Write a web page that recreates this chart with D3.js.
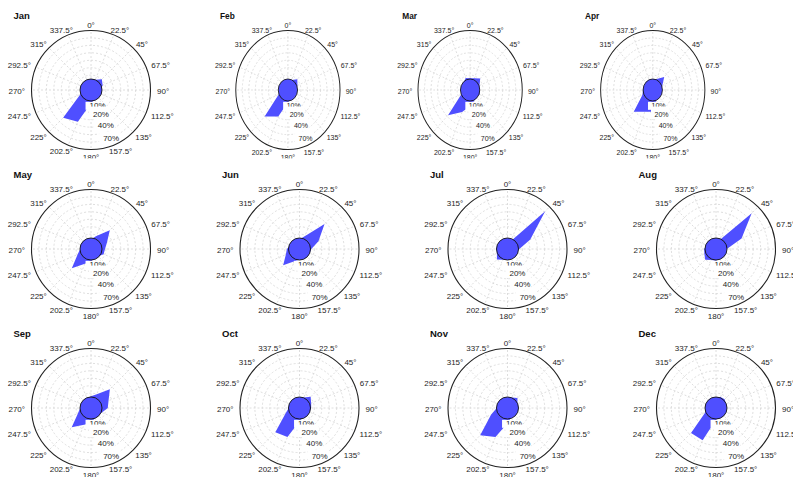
<!DOCTYPE html>
<html><head><meta charset="utf-8">
<script src="https://cdn.jsdelivr.net/npm/d3@7"></script>
<style>body{margin:0;background:#fff} svg{display:block}</style>
</head><body>
<svg id="c" width="793" height="477"></svg>
<script>
// ---------- data ----------
const months = ["Jan","Feb","Mar","Apr","May","Jun","Jul","Aug","Sep","Oct","Nov","Dec"];
const directions = [0,22.5,45,67.5,90,112.5,135,157.5,180,202.5,225,247.5,270,292.5,315,337.5];
const directionLabels = directions.map(d => d + "°");
const rangeTicks = [10,20,40,70];
const rangeTickLabels = ["10%","20%","40%","70%"];
const calmValues = [2.6,2.6,2.6,2.6,2.6,2.6,2.6,2.6,2.6,2.6,2.6,2.6];
// percentage per direction (0°, 22.5°, ... 337.5°)
const jan = [2.4,2.6,5.0,3.4,2.0,2.0,2.0,2.2,3.8,25.3,33.2,2.9,2.0,2.0,2.0,2.0];
const feb = [2.2,2.5,4.9,3.0,2.0,2.0,2.0,2.3,3.2,17.6,30.2,2.8,2.0,2.0,2.0,2.0];
const mar = [3.0,3.4,5.7,2.9,2.4,2.9,2.2,3.0,5.5,12.2,27.1,2.5,2.0,2.0,2.4,3.6];
const apr = [2.5,3.0,7.3,3.0,2.2,2.0,2.0,2.5,10.2,11.8,20.1,3.5,2.7,2.0,2.0,2.0];
const may = [2.0,4.2,15.1,6.4,4.2,4.0,2.2,2.2,3.4,5.5,15.7,4.5,2.5,2.5,2.5,2.0];
const jun = [2.0,4.0,26.8,9.0,3.0,2.5,2.0,2.0,2.5,3.8,11.4,4.7,3.4,2.0,2.0,2.0];
const jul = [2.0,1.5,60.7,13.0,3.0,2.0,2.0,2.0,2.4,2.9,4.8,2.8,2.5,2.0,2.0,2.0];
const aug = [2.0,2.0,54.5,16.3,2.5,2.0,2.0,2.0,2.9,3.1,5.0,3.4,3.0,2.0,2.0,2.0];
const sep = [3.0,4.8,15.2,7.7,6.0,3.0,2.0,2.5,4.8,7.1,15.9,4.3,2.5,2.0,2.0,2.5];
const oct = [2.2,2.8,5.3,3.4,2.9,2.2,2.0,2.2,3.8,21.2,25.0,5.1,2.5,2.0,2.0,2.0];
const nov = [2.2,2.7,4.2,2.5,2.0,2.0,2.0,2.2,5.0,21.2,31.9,6.8,2.5,2.0,2.0,2.0];
const dec = [2.2,3.0,3.2,2.5,2.0,2.0,2.0,2.2,2.9,26.2,26.7,2.9,2.2,2.0,2.0,2.0];
const monthValues = [jan,feb,mar,apr,may,jun,jul,aug,sep,oct,nov,dec];

// ---------- layout ----------
const colX = [91, 299.5, 507.5, 716];
const rowY = [90, 249, 408];
const rowClip = [[0,158.5],[158.5,322],[322,477]];
const R = 59.5;
const squeeze = 0.876, squeezeOrigin = 206;
const rScale = d3.scaleSqrt().domain([0, 75.7]).range([0, R]);
const angle = d3.scaleLinear().domain([0, 360]).range([0, 2*Math.PI]);
const ringRadii = d3.range(1, 8).map(i => R * i / 8);
const labelFont = "Liberation Sans, Arial, sans-serif";
const fill = "#4f4fff";
const textColor = "#1e1e1e";

const svg = d3.select("#c");
svg.append("rect").attr("width",793).attr("height",477).attr("fill","#fff");
const defs = svg.append("defs");
rowClip.forEach((c,i) => {
  defs.append("clipPath").attr("id","row"+i)
    .append("rect").attr("x",-200).attr("y",c[0]).attr("width",1300).attr("height",c[1]-c[0]);
});

months.forEach((m, idx) => {
  const row = Math.floor(idx/4), col = idx % 4;
  const cx = colX[col], cy = rowY[row];
  let outer = svg.append("g").attr("clip-path", `url(#row${row})`);
  if (row === 0 && col > 0) {
    outer = outer.append("g")
      .attr("transform", `translate(${squeezeOrigin},0) scale(${squeeze},1) translate(${-squeezeOrigin},0)`);
  }
  outer.append("rect").attr("x", cx-100).attr("y", rowClip[row][0]).attr("width", 210)
    .attr("height", rowClip[row][1]-rowClip[row][0]).attr("fill", "#fff");
  const g = outer.append("g").attr("transform", `translate(${cx},${cy})`);

  // title
  g.append("text").attr("x", -77.5).attr("y", -71.5).text(m)
    .attr("font-family", labelFont).attr("font-weight", "bold").attr("font-size", 9.5).attr("fill", "#111");

  // grid rings
  g.selectAll(".ring").data(ringRadii).join("circle")
    .attr("r", d => d).attr("fill", "none").attr("stroke", "#d6d6d6")
    .attr("stroke-width", 0.8).attr("stroke-dasharray", "2,2");
  // spokes
  g.selectAll(".spoke").data(directions).join("line")
    .attr("x1", 0).attr("y1", 0)
    .attr("x2", d => R*Math.sin(angle(d))).attr("y2", d => -R*Math.cos(angle(d)))
    .attr("stroke", "#d6d6d6").attr("stroke-width", 0.8).attr("stroke-dasharray", "2,2");

  // wind polygon
  const line = d3.lineRadial()
    .angle((d,i) => angle(directions[i]))
    .radius(d => rScale(d))
    .curve(d3.curveLinearClosed);
  g.append("path").attr("d", line(monthValues[idx])).attr("fill", fill).attr("stroke", "none");

  // range labels along 157.5°
  const la = angle(157.5);
  rangeTicks.forEach((t, i) => {
    const d = rScale(t) - 4.5;
    const x = d*Math.sin(la), y = -d*Math.cos(la);
    const lg = g.append("g");
    const txt = lg.append("text").attr("x", x).attr("y", y).text(rangeTickLabels[i])
      .attr("text-anchor", "middle").attr("dominant-baseline", "central")
      .attr("font-family", labelFont).attr("font-size", 8).attr("fill", textColor);
    const w = txt.node().getComputedTextLength();
    const top = i === 0 ? 4 : 7.5, bottom = i === 0 ? 4 : 5;
    lg.insert("rect", "text").attr("x", x - w/2 - 4).attr("y", y - top)
      .attr("width", w + 5).attr("height", top + bottom).attr("fill", "#fff");
  });

  // calm circle
  g.append("circle").attr("r", rScale(calmValues[idx]))
    .attr("fill", fill).attr("stroke", "#111").attr("stroke-width", 0.9);

  // outer circle
  g.append("circle").attr("r", R).attr("fill", "none").attr("stroke", "#222").attr("stroke-width", 1.1);

  // direction labels
  directions.forEach((dAng, i) => {
    const a = angle(dAng);
    const px = (R + 6.5)*Math.sin(a), py = -(R + 6.5)*Math.cos(a) + 1;
    const txt = g.append("text").text(directionLabels[i])
      .attr("text-anchor", "middle").attr("dominant-baseline", "central")
      .attr("font-family", labelFont).attr("font-size", 8).attr("fill", textColor);
    const w = txt.node().getComputedTextLength();
    txt.attr("x", px + (w/2)*Math.sin(a)).attr("y", py);
  });
});
</script>
</body></html>
